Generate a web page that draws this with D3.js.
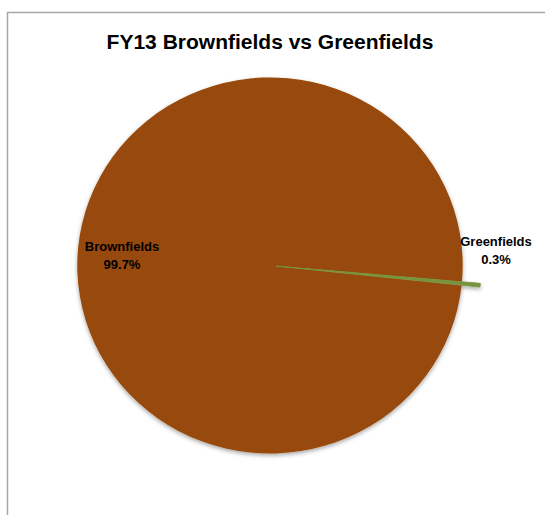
<!DOCTYPE html>
<html>
<head>
<meta charset="utf-8">
<script src="https://cdn.jsdelivr.net/npm/d3@7"></script>
<style>
  body { margin: 0; background: #fff; }
  svg { display: block; }
</style>
</head>
<body>
<svg id="drawing_region"></svg>
<script>
// data
const categories = ['Brownfields', 'Greenfields'];
const shares = [99.7, 0.3];
const labels = ['99.7%', '0.3%'];
const colors = ['#984807', '#77933c'];

const config = {
    parent: '#drawing_region',
    width: 545,
    height: 515,
    title: 'FY13 Brownfields vs Greenfields'
};

const data = categories.map((c, i) => ({ name: c, value: shares[i], label: labels[i], color: colors[i] }));

const svg = d3.select(config.parent)
    .attr('width', config.width)
    .attr('height', config.height);

// chart area frame (cropped on right / bottom)
svg.append('path')
    .attr('d', 'M7.5,515 L7.5,12.5 L545,12.5')
    .attr('fill', 'none')
    .attr('stroke', '#a6a6a6')
    .attr('stroke-width', 1.5);

svg.append('text')
    .attr('x', 270)
    .attr('y', 49)
    .attr('text-anchor', 'middle')
    .attr('font-family', 'Liberation Sans, Arial, sans-serif')
    .attr('font-weight', 'bold')
    .attr('font-size', 21)
    .attr('fill', '#000')
    .text(config.title);

const defs = svg.append('defs');
const filter = defs.append('filter').attr('id', 'shadow')
    .attr('x', '-10%').attr('y', '-10%').attr('width', '120%').attr('height', '125%');
filter.append('feDropShadow')
    .attr('dx', 0).attr('dy', 2).attr('stdDeviation', 2)
    .attr('flood-color', '#000').attr('flood-opacity', 0.35);

const cx = 270, cy = 265.5, radius = 188;

// greenfields placed at ~95.5deg clockwise from 12 o'clock
const startAngle = (95 - 360 * shares[1] / 100 / 2 + 0.5) * Math.PI / 180 - 2 * Math.PI * shares[0] / 100;

const pie = d3.pie()
    .sort(null)
    .value(d => d.value)
    .startAngle(startAngle)
    .endAngle(startAngle + 2 * Math.PI);

const explode = [0, 6];
const extraR = [0, 12];

const g = svg.append('g')
    .attr('transform', `translate(${cx},${cy}) scale(1.025,1)`)
    .attr('filter', 'url(#shadow)');

const arcs = pie(data);

g.selectAll('path')
    .data(arcs)
    .join('path')
    .attr('d', (d, i) => d3.arc().innerRadius(0).outerRadius(radius + extraR[i])(d))
    .attr('transform', (d, i) => {
        const a = (d.startAngle + d.endAngle) / 2;
        return `translate(${Math.sin(a) * explode[i]},${-Math.cos(a) * explode[i]})`;
    })
    .attr('fill', d => d.data.color)
    .attr('stroke', d => d.data.color)
    .attr('stroke-width', (d, i) => i === 1 ? 0.8 : 0);

// labels
const labelPos = [
    { x: 122, y: 251 },
    { x: 496, y: 246 }
];

const lab = svg.append('g')
    .attr('font-family', 'Liberation Sans, Arial, sans-serif')
    .attr('font-weight', 'bold')
    .attr('font-size', 13)
    .attr('fill', '#000')
    .attr('text-anchor', 'middle');

data.forEach((d, i) => {
    const t = lab.append('text')
        .attr('x', labelPos[i].x)
        .attr('y', labelPos[i].y);
    t.append('tspan').attr('x', labelPos[i].x).text(d.name);
    t.append('tspan').attr('x', labelPos[i].x).attr('dy', 18).text(d.label);
});
</script>
</body>
</html>
